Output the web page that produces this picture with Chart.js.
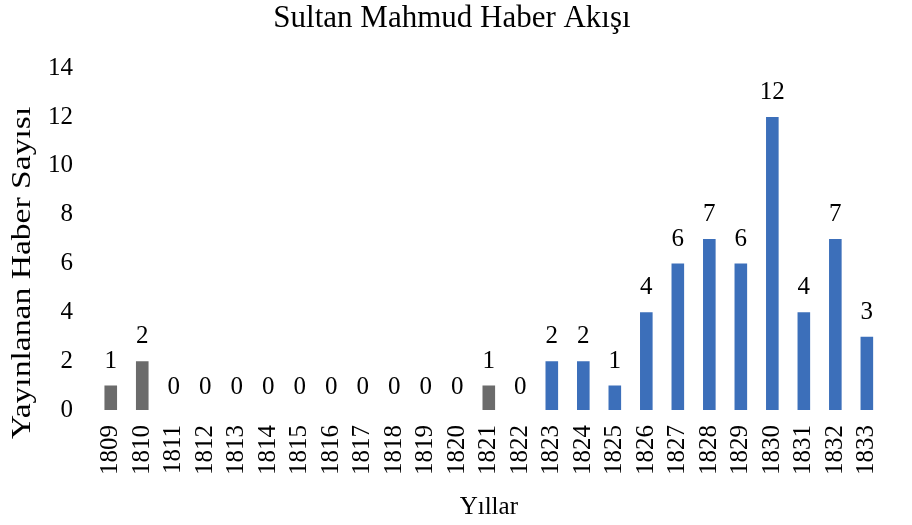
<!DOCTYPE html>
<html>
<head>
<meta charset="utf-8">
<script src="https://cdn.jsdelivr.net/npm/chart.js@4"></script>
<style>
  html, body { margin: 0; padding: 0; background: #fff; }
  #wrap { width: 912px; height: 525px; }
</style>
</head>
<body>
<div id="wrap"><canvas id="news-canvas"></canvas></div>
<script>
const years = ['1809', '1810', '1811', '1812', '1813', '1814', '1815', '1816', '1817', '1818', '1819', '1820',
    '1821', '1822', '1823', '1824', '1825', '1826', '1827', '1828', '1829', '1830', '1831', '1832', '1833'];
const news_counts = [1, 2, 0, 0, 0, 0, 0, 0, 0, 0, 0, 0, 1, 0, 2, 2, 1, 4, 6, 7, 6, 12, 4, 7, 3];
const gray_years = ['1809', '1810', '1821'];
const y_title = 'Yayınlanan Haber Sayısı';

const serif = "'Liberation Serif', 'DejaVu Serif', serif";

// values written above each bar (zeros too)
const valueLabels = {
    id: 'valueLabels',
    afterDatasetsDraw(chart) {
        const ctx = chart.ctx;
        const meta = chart.getDatasetMeta(0);
        ctx.save();
        ctx.fillStyle = '#000';
        ctx.font = '25px ' + serif;
        ctx.textAlign = 'center';
        ctx.textBaseline = 'alphabetic';
        meta.data.forEach((bar, i) => {
            const gap = news_counts[i] === 0 ? 16 : 18;
            ctx.fillText(String(news_counts[i]), bar.x, bar.y - gap);
        });
        ctx.restore();
    }
};

// y axis title, sits a bit below the middle of the plot in the original
const yTitle = {
    id: 'yTitle',
    afterDraw(chart) {
        const ctx = chart.ctx;
        ctx.save();
        ctx.translate(22.5, 273);
        ctx.rotate(-Math.PI / 2);
        ctx.scale(1.2, 1);
        ctx.fillStyle = '#000';
        ctx.font = '28px ' + serif;
        ctx.textAlign = 'center';
        ctx.textBaseline = 'middle';
        ctx.fillText(y_title, 0, 0);
        ctx.restore();
    }
};

const news_config = {
    type: 'bar',
    data: {
        labels: years,
        datasets: [
            {
                data: news_counts,
                backgroundColor: years.map(y => gray_years.includes(y) ? '#6b6b6b' : '#3c6fba'),
                borderWidth: 0,
                barPercentage: 0.4,
                categoryPercentage: 1.0,
            }
        ]
    },
    options: {
        responsive: true,
        maintainAspectRatio: false,
        animation: false,
        layout: { padding: { top: 0, right: 8, left: 0, bottom: 0 } },
        plugins: {
            legend: { display: false },
            tooltip: { enabled: false },
            title: {
                display: true,
                text: 'Sultan Mahmud Haber Akışı',
                color: '#000',
                font: { family: serif, size: 31, weight: 'normal' },
                padding: { top: 0, bottom: 31 }
            },
        },
        scales: {
            x: {
                afterFit(scale) { scale.height = 115; },
                grid: { display: false, drawTicks: false },
                border: { display: false },
                ticks: {
                    color: '#000',
                    font: { family: serif, size: 25 },
                    minRotation: 90,
                    maxRotation: 90,
                    autoSkip: false,
                    padding: 15
                },
                title: {
                    display: true,
                    text: 'Yıllar',
                    color: '#000',
                    font: { family: serif, size: 25 },
                    padding: { top: 0, bottom: 3 }
                }
            },
            y: {
                afterFit(scale) { scale.width = 95; },
                min: 0,
                max: 14,
                grid: { display: false, drawTicks: false },
                border: { display: false },
                ticks: {
                    stepSize: 2,
                    color: '#000',
                    font: { family: serif, size: 25 },
                    padding: 22
                }
            }
        }
    },
    plugins: [valueLabels, yTitle]
};

const news_ctx = document.getElementById('news-canvas');
new Chart(news_ctx, news_config);
</script>
</body>
</html>
